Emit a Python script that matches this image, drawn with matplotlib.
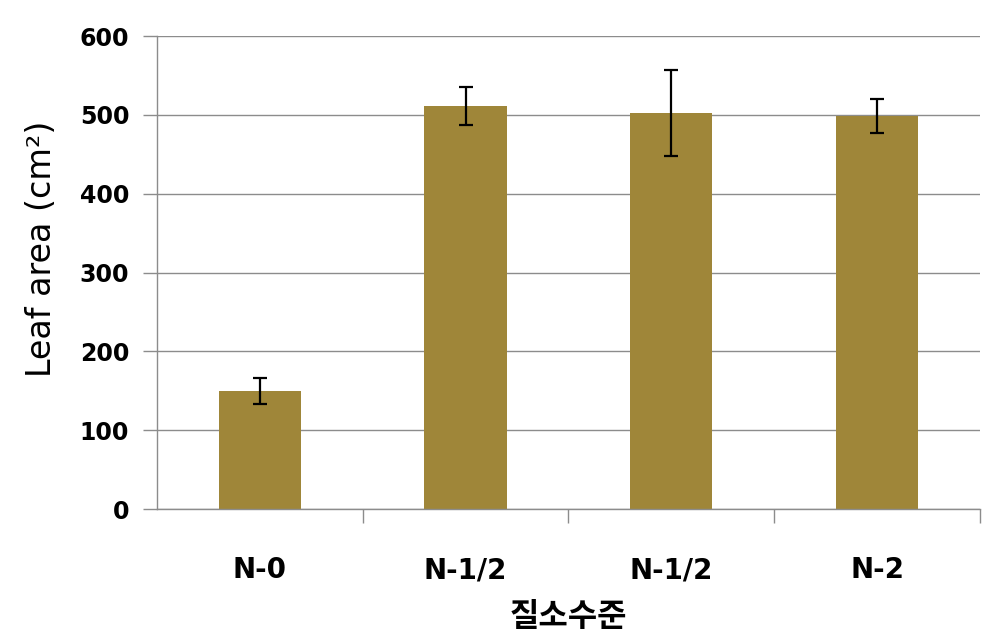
import matplotlib
matplotlib.use("Agg")
import matplotlib.pyplot as plt

# data
levels = ["N-0", "N-1/2", "N-1/2", "N-2"]
leaf_area = [150, 511, 502, 499]
leaf_err = [16.5, 24, 54.5, 21.5]
y_ticks = [0, 100, 200, 300, 400, 500, 600]

bar_color = "#9f8639"
grid_color = "#8c8c8c"

fig = plt.figure(figsize=(10.04, 6.44), dpi=100)
ax = fig.add_axes([0.1564, 0.2096, 0.976 - 0.1564, 0.944 - 0.2096])

x = list(range(len(levels)))
ax.bar(x, leaf_area, width=0.4, color=bar_color, zorder=2)
ax.errorbar(x, leaf_area, yerr=leaf_err, fmt="none", ecolor="black",
            elinewidth=1.6, capsize=5, capthick=1.6, zorder=3)

# y axis
ax.set_ylim(0, 600)
ax.set_yticks(y_ticks)
ax.set_yticklabels([str(v) for v in y_ticks], fontsize=17, fontweight="bold",
                   family="DejaVu Sans")
ax.yaxis.grid(True, color=grid_color, linewidth=1.0, zorder=0)
ax.set_axisbelow(True)
ax.tick_params(axis="y", direction="out", length=10, width=1,
               color=grid_color, pad=10)
ax.set_ylabel("Leaf area (cm²)", fontsize=24, family="DejaVu Sans")
ax.yaxis.set_label_coords(-0.12, 0.55)

# x axis: category labels in the middle, ticks on the boundaries
ax.set_xlim(-0.5, len(levels) - 0.5)
ax.set_xticks(x)
ax.set_xticklabels(levels, fontsize=20, fontweight="bold",
                   family="DejaVu Sans")
ax.tick_params(axis="x", which="major", length=0, pad=34)
ax.set_xticks([i + 0.5 for i in range(len(levels))], minor=True)
ax.tick_params(axis="x", which="minor", direction="out", length=10,
               width=1, color=grid_color)
ax.set_xlabel("질소수준", fontsize=23, fontweight="bold",
              family=["Noto Sans CJK KR", "DejaVu Sans"], labelpad=12)

for side in ["top", "right"]:
    ax.spines[side].set_visible(False)
for side in ["left", "bottom"]:
    ax.spines[side].set_color(grid_color)
    ax.spines[side].set_linewidth(1)

fig.savefig("out.png", dpi=100)
